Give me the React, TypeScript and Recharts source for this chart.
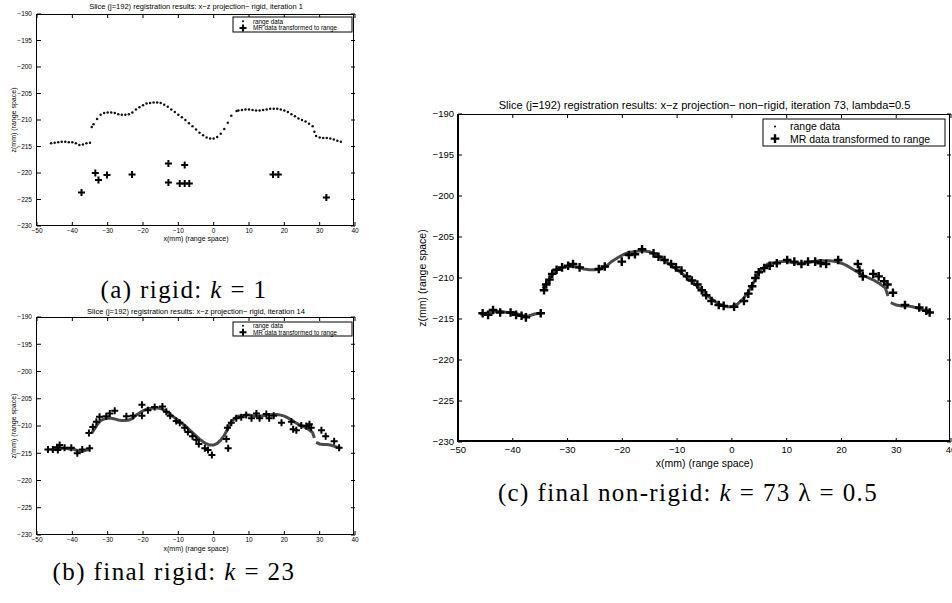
import { ScatterChart, Scatter, XAxis, YAxis } from "recharts";

type Pt = { x: number; z: number };

const xDomain: [number, number] = [-50, 40];
const zDomain: [number, number] = [-230, -190];
const xTicks = [-50, -40, -30, -20, -10, 0, 10, 20, 30, 40];
const zTicks = [-230, -225, -220, -215, -210, -205, -200, -195, -190];

// range data (same surface in every panel), split where the scan has gaps
const rangeLeft: Pt[] = [
  { x: -46, z: -214.4 }, { x: -45, z: -214.3 }, { x: -44, z: -214.2 }, { x: -43, z: -214.1 },
  { x: -42, z: -214.1 }, { x: -41, z: -214.2 }, { x: -40, z: -214.2 }, { x: -39, z: -214.4 },
  { x: -38, z: -214.7 }, { x: -37, z: -214.6 }, { x: -36, z: -214.4 }, { x: -35, z: -214.3 },
];
const rangeMid: Pt[] = [
  { x: -34.5, z: -211.3 }, { x: -34, z: -210.8 }, { x: -33, z: -209.8 }, { x: -32, z: -209.0 },
  { x: -31, z: -208.7 }, { x: -30, z: -208.6 }, { x: -29, z: -208.6 }, { x: -28, z: -208.7 },
  { x: -27, z: -208.9 }, { x: -26, z: -209.0 }, { x: -25, z: -209.0 }, { x: -24, z: -208.9 },
  { x: -23, z: -208.6 }, { x: -22, z: -208.0 }, { x: -21, z: -207.6 }, { x: -20, z: -207.2 },
  { x: -19, z: -206.9 }, { x: -18, z: -206.8 }, { x: -17, z: -206.7 }, { x: -16, z: -206.7 },
  { x: -15, z: -206.8 }, { x: -14, z: -207.1 }, { x: -13, z: -207.5 }, { x: -12, z: -208.0 },
  { x: -11, z: -208.5 }, { x: -10, z: -209.0 }, { x: -9, z: -209.5 }, { x: -8, z: -210.0 },
  { x: -7, z: -210.6 }, { x: -6, z: -211.2 }, { x: -5, z: -211.8 }, { x: -4, z: -212.4 },
  { x: -3, z: -212.9 }, { x: -2, z: -213.3 }, { x: -1, z: -213.5 }, { x: 0, z: -213.5 },
  { x: 1, z: -213.2 }, { x: 2, z: -212.6 }, { x: 3, z: -211.7 }, { x: 4, z: -210.5 },
  { x: 5, z: -209.2 }, { x: 6.5, z: -208.3 }, { x: 7, z: -208.2 }, { x: 8, z: -208.1 },
  { x: 9, z: -208.0 }, { x: 10, z: -208.0 }, { x: 11, z: -208.1 }, { x: 12, z: -208.2 },
  { x: 13, z: -208.2 }, { x: 14, z: -208.1 }, { x: 15, z: -208.0 }, { x: 16, z: -207.9 },
  { x: 17, z: -207.9 }, { x: 18, z: -207.9 }, { x: 19, z: -208.0 }, { x: 20, z: -208.2 },
  { x: 21, z: -208.5 }, { x: 22, z: -208.9 }, { x: 23, z: -209.3 }, { x: 24, z: -209.7 },
  { x: 25, z: -210.0 }, { x: 26, z: -210.3 }, { x: 27, z: -210.7 }, { x: 28, z: -211.2 },
  { x: 28.5, z: -212.2 },
];
const rangeRight: Pt[] = [
  { x: 29, z: -213.0 }, { x: 30, z: -213.3 }, { x: 31, z: -213.4 }, { x: 32, z: -213.4 },
  { x: 33, z: -213.5 }, { x: 34, z: -213.7 }, { x: 35, z: -213.9 }, { x: 36, z: -214.1 },
];
const rangeSegments = [rangeLeft, rangeMid, rangeRight];

// MR data transformed to range
const mrRigid1: Pt[] = [
  { x: -37.4, z: -223.7 }, { x: -33.5, z: -220.0 }, { x: -32.6, z: -221.3 }, { x: -30.2, z: -220.4 },
  { x: -23.1, z: -220.3 }, { x: -12.8, z: -218.2 }, { x: -12.8, z: -221.8 }, { x: -8.2, z: -218.5 },
  { x: -9.6, z: -222.0 }, { x: -8.2, z: -222.0 }, { x: -6.9, z: -222.0 }, { x: 16.8, z: -220.3 },
  { x: 18.3, z: -220.3 }, { x: 31.9, z: -224.6 },
];
const mrRigid14: Pt[] = [
  { x: -46.9, z: -214.3 }, { x: -45.5, z: -214.3 }, { x: -44.3, z: -213.9 }, { x: -43.6, z: -213.5 },
  { x: -44.1, z: -214.4 }, { x: -42.2, z: -214.0 }, { x: -40.3, z: -214.0 }, { x: -38.6, z: -215.0 },
  { x: -37.2, z: -214.3 }, { x: -35.1, z: -214.1 }, { x: -35.3, z: -211.3 }, { x: -34.2, z: -210.2 },
  { x: -33.2, z: -209.2 }, { x: -32.3, z: -208.3 }, { x: -30.4, z: -208.2 }, { x: -29.4, z: -207.7 },
  { x: -28.0, z: -207.2 }, { x: -24.7, z: -208.2 }, { x: -22.8, z: -208.1 }, { x: -20.3, z: -206.1 },
  { x: -20.3, z: -208.1 }, { x: -18.6, z: -207.1 }, { x: -16.7, z: -206.5 }, { x: -14.5, z: -206.4 },
  { x: -13.4, z: -207.4 }, { x: -12.3, z: -208.1 }, { x: -10.6, z: -209.1 }, { x: -9.6, z: -209.4 },
  { x: -8.2, z: -210.3 }, { x: -7.3, z: -211.1 }, { x: -6.0, z: -211.9 }, { x: -4.9, z: -212.5 },
  { x: -4.2, z: -213.3 }, { x: -2.5, z: -214.1 }, { x: -1.6, z: -214.4 }, { x: -0.5, z: -215.3 },
  { x: 3.6, z: -212.4 }, { x: 3.9, z: -210.3 }, { x: 4.1, z: -214.1 }, { x: 5.0, z: -209.4 },
  { x: 6.4, z: -208.6 }, { x: 7.8, z: -208.4 }, { x: 9.2, z: -208.0 }, { x: 10.7, z: -208.6 },
  { x: 12.1, z: -207.7 }, { x: 13.0, z: -208.6 }, { x: 14.9, z: -207.8 }, { x: 15.7, z: -208.6 },
  { x: 17.0, z: -208.1 }, { x: 19.2, z: -209.4 }, { x: 22.0, z: -209.2 }, { x: 22.5, z: -210.6 },
  { x: 23.4, z: -210.8 }, { x: 24.8, z: -209.9 }, { x: 26.2, z: -210.0 }, { x: 27.6, z: -210.3 },
  { x: 27.1, z: -209.7 }, { x: 30.5, z: -210.8 }, { x: 31.7, z: -211.9 }, { x: 34.1, z: -212.8 },
  { x: 35.5, z: -214.0 },
];
const mrNonRigid73: Pt[] = [
  { x: -45.5, z: -214.3 }, { x: -44.5, z: -214.5 }, { x: -43.6, z: -213.9 }, { x: -42.3, z: -214.2 },
  { x: -40.4, z: -214.2 }, { x: -39.4, z: -214.5 }, { x: -38.4, z: -214.6 }, { x: -37.6, z: -214.8 },
  { x: -34.9, z: -214.3 }, { x: -34.3, z: -211.5 }, { x: -33.9, z: -210.8 }, { x: -33.3, z: -210.2 },
  { x: -32.8, z: -209.5 }, { x: -32.0, z: -209.0 }, { x: -31.0, z: -208.7 }, { x: -29.9, z: -208.5 },
  { x: -29.0, z: -208.3 }, { x: -27.8, z: -208.7 }, { x: -24.3, z: -208.9 }, { x: -23.2, z: -208.6 },
  { x: -20.1, z: -208.0 }, { x: -18.8, z: -207.2 }, { x: -17.7, z: -207.1 }, { x: -16.4, z: -206.5 },
  { x: -14.3, z: -207.0 }, { x: -13.4, z: -207.4 }, { x: -12.3, z: -207.8 }, { x: -11.1, z: -208.3 },
  { x: -10.2, z: -208.7 }, { x: -9.2, z: -209.1 }, { x: -8.2, z: -209.8 }, { x: -7.3, z: -210.3 },
  { x: -6.3, z: -210.8 }, { x: -5.5, z: -211.5 }, { x: -4.7, z: -212.1 }, { x: -3.7, z: -212.8 },
  { x: -2.4, z: -213.3 }, { x: -1.5, z: -213.4 }, { x: 0.4, z: -213.5 }, { x: 2.2, z: -212.8 },
  { x: 3.0, z: -211.9 }, { x: 3.7, z: -211.0 }, { x: 4.3, z: -210.0 }, { x: 4.9, z: -209.3 },
  { x: 5.9, z: -208.8 }, { x: 6.9, z: -208.5 }, { x: 8.2, z: -208.2 }, { x: 10.1, z: -207.8 },
  { x: 11.4, z: -208.0 }, { x: 12.7, z: -208.3 }, { x: 13.9, z: -208.0 }, { x: 15.2, z: -208.0 },
  { x: 16.2, z: -208.2 }, { x: 17.2, z: -208.3 }, { x: 19.4, z: -207.8 }, { x: 23.0, z: -208.3 },
  { x: 23.3, z: -209.1 }, { x: 23.9, z: -209.8 }, { x: 25.8, z: -209.5 }, { x: 26.8, z: -209.8 },
  { x: 27.8, z: -210.4 }, { x: 28.4, z: -210.8 }, { x: 29.4, z: -211.8 }, { x: 31.6, z: -213.3 },
  { x: 34.2, z: -213.6 }, { x: 35.5, z: -214.0 }, { x: 36.1, z: -214.2 },
];

const SANS = '"Liberation Sans", Arial, Helvetica, sans-serif';
const SERIF = '"Liberation Serif", "Times New Roman", serif';
const fmt = (v: number) => (v < 0 ? `\u2212${Math.abs(v)}` : `${v}`);

const makePlus = (half: number, sw: number) => (props: any) => {
  const { cx, cy } = props;
  if (cx == null || cy == null) return <g />;
  return (
    <path
      d={`M${cx - half},${cy}H${cx + half}M${cx},${cy - half}V${cy + half}`}
      stroke="#000"
      strokeWidth={sw}
      fill="none"
    />
  );
};
const plusSmall = makePlus(3.5, 2);
const plusLarge = makePlus(4.3, 2.4);
const rangeDot = (props: any) => {
  const { cx, cy } = props;
  if (cx == null || cy == null) return <g />;
  return <circle cx={cx} cy={cy} r={1.25} fill="#111" />;
};
const noShape = () => <g />;
const rangeLine = { stroke: "#4a4a4a", strokeWidth: 3 };

interface PanelProps {
  l: number;
  t: number;
  r: number;
  b: number;
  title: string;
  titleY: number;
  titleFont: number;
  mr: Pt[];
  plus: (props: any) => any;
  rangeAsLine: boolean;
  tickFont: number;
  yTickGap: number;
  xTickGap: number;
  xLabelY: number;
  yLabelX: number;
  labelFont: number;
  axisWidth: number;
  legend: { x: number; y: number; w: number; h: number; font: number; mark: number; text: number };
}

function Panel(p: PanelProps) {
  const padL = 40;
  const padT = 10;
  const padR = 10;
  const padB = 30;
  const w = p.r - p.l + padL + padR;
  const h = p.b - p.t + padT + padB;
  const plotTop = padT;
  const plotRight = w - padR;
  const midX = (p.l + p.r) / 2;
  const midY = (p.t + p.b) / 2;
  const lg = p.legend;
  const rowH = lg.h / 2;
  const tl = 4;

  // tick renderers: label plus short inward marks on the opposite sides too
  const xTick = (props: any) => {
    const { x, y, payload } = props;
    const axisY = y - p.xTickGap;
    return (
      <g>
        <rect x={x - 0.5} y={axisY - tl} width={1} height={tl} fill="#000" />
        <rect x={x - 0.5} y={plotTop} width={1} height={tl} fill="#000" />
        <text x={x} y={y} dy="0.75em" textAnchor="middle" fontFamily={SANS} fontSize={p.tickFont} fill="#000">
          {fmt(payload.value)}
        </text>
      </g>
    );
  };
  const zTick = (props: any) => {
    const { x, y, payload } = props;
    const axisX = x + p.yTickGap;
    return (
      <g>
        <rect x={axisX} y={y - 0.5} width={tl} height={1} fill="#000" />
        <rect x={plotRight - tl} y={y - 0.5} width={tl} height={1} fill="#000" />
        <text x={x} y={y} dy="0.35em" textAnchor="end" fontFamily={SANS} fontSize={p.tickFont} fill="#000">
          {fmt(payload.value)}
        </text>
      </g>
    );
  };

  return (
    <>
      <div style={{ position: "absolute", left: p.l - padL, top: p.t - padT }}>
        <ScatterChart width={w} height={h} margin={{ top: padT, right: padR, bottom: 0, left: 0 }}>
          <XAxis
            type="number"
            dataKey="x"
            domain={xDomain}
            ticks={xTicks}
            height={padB}
            tickSize={0}
            tickLine={false}
            tickMargin={p.xTickGap}
            tick={xTick}
            axisLine={false}
          />
          <YAxis
            type="number"
            dataKey="z"
            domain={zDomain}
            ticks={zTicks}
            width={padL}
            tickSize={0}
            tickLine={false}
            tickMargin={p.yTickGap}
            tick={zTick}
            axisLine={false}
          />
          {rangeSegments.map((seg, i) =>
            p.rangeAsLine ? (
              <Scatter key={`r${i}`} data={seg} line={rangeLine} shape={noShape} isAnimationActive={false} />
            ) : (
              <Scatter key={`r${i}`} data={seg} shape={rangeDot} isAnimationActive={false} />
            )
          )}
          <Scatter data={p.mr} shape={p.plus} isAnimationActive={false} />
        </ScatterChart>
      </div>
      {/* axes box as plain boxes: thin top/right, heavier left/bottom */}
      <div
        style={{
          position: "absolute",
          left: p.l - p.axisWidth / 2,
          top: p.t - 0.5,
          width: p.r - p.l,
          height: p.b - p.t,
          borderTop: "1px solid #000",
          borderRight: "1px solid #000",
          borderLeft: `${p.axisWidth}px solid #000`,
          borderBottom: `${p.axisWidth}px solid #000`,
          boxSizing: "border-box",
          pointerEvents: "none",
        }}
      />
      <svg
        width={952}
        height={603}
        style={{ position: "absolute", left: 0, top: 0, pointerEvents: "none", overflow: "visible" }}
      >
        <text x={midX} y={p.titleY} textAnchor="middle" dominantBaseline="central" fontFamily={SANS} fontSize={p.titleFont}>
          {p.title}
        </text>
        <text x={midX} y={p.xLabelY} textAnchor="middle" dominantBaseline="central" fontFamily={SANS} fontSize={p.labelFont}>
          x(mm) (range space)
        </text>
        <text
          x={p.yLabelX}
          y={midY}
          textAnchor="middle"
          dominantBaseline="central"
          fontFamily={SANS}
          fontSize={p.labelFont}
          transform={`rotate(-90 ${p.yLabelX} ${midY})`}
        >
          z(mm) (range space)
        </text>
        <rect x={lg.x} y={lg.y} width={lg.w} height={lg.h} fill="#fff" stroke="#000" strokeWidth={1} />
        <circle cx={lg.x + lg.mark} cy={lg.y + rowH * 0.55} r={1} fill="#000" />
        <text x={lg.x + lg.text} y={lg.y + rowH * 0.55} dominantBaseline="central" fontFamily={SANS} fontSize={lg.font}>
          range data
        </text>
        {p.plus({ cx: lg.x + lg.mark, cy: lg.y + rowH * 1.45 })}
        <text x={lg.x + lg.text} y={lg.y + rowH * 1.45} dominantBaseline="central" fontFamily={SANS} fontSize={lg.font}>
          MR data transformed to range
        </text>
      </svg>
    </>
  );
}

function Caption({ x, y, pre, post }: { x: number; y: number; pre: string; post: string }) {
  return (
    <svg width={952} height={603} style={{ position: "absolute", left: 0, top: 0, pointerEvents: "none" }}>
      <text x={x} y={y} textAnchor="middle" fontFamily={SERIF} fontSize={25} letterSpacing={1.4} fill="#000">
        {pre}
        <tspan fontStyle="italic">k</tspan>
        {post}
      </text>
    </svg>
  );
}

export default function App() {
  return (
    <div
      style={{
        position: "absolute",
        left: 0,
        top: 0,
        width: 952,
        height: 603,
        overflow: "hidden",
        background: "#fff",
      }}
    >
      <Panel
        l={37}
        t={14}
        r={355}
        b={226}
        title="Slice (j=192) registration results: x−z projection− rigid, iteration 1"
        titleY={6}
        titleFont={7.5}
        mr={mrRigid1}
        plus={plusSmall}
        rangeAsLine={false}
        tickFont={6.5}
        yTickGap={5}
        xTickGap={2}
        xLabelY={238}
        yLabelX={13}
        labelFont={7}
        axisWidth={1.5}
        legend={{ x: 233, y: 17, w: 119, h: 15, font: 6.3, mark: 10, text: 20 }}
      />
      <Panel
        l={37}
        t={317}
        r={355}
        b={535}
        title="Slice (j=192) registration results: x−z projection− rigid, iteration 14"
        titleY={311}
        titleFont={7.5}
        mr={mrRigid14}
        plus={plusSmall}
        rangeAsLine={true}
        tickFont={6.5}
        yTickGap={5}
        xTickGap={2}
        xLabelY={548}
        yLabelX={13}
        labelFont={7}
        axisWidth={1.5}
        legend={{ x: 233, y: 322, w: 119, h: 14, font: 6.3, mark: 10, text: 20 }}
      />
      <Panel
        l={458}
        t={114}
        r={951}
        b={442}
        title="Slice (j=192) registration results: x−z projection− non−rigid, iteration 73, lambda=0.5"
        titleY={105}
        titleFont={11.1}
        mr={mrNonRigid73}
        plus={plusLarge}
        rangeAsLine={true}
        tickFont={9.5}
        yTickGap={4}
        xTickGap={4}
        xLabelY={463}
        yLabelX={422}
        labelFont={10.5}
        axisWidth={2}
        legend={{ x: 763, y: 119, w: 182, h: 27, font: 10.5, mark: 12, text: 27 }}
      />
      <Caption x={184} y={298} pre="(a) rigid: " post=" = 1" />
      <Caption x={174} y={580} pre="(b) final rigid: " post=" = 23" />
      <Caption x={688} y={501} pre="(c) final non-rigid: " post=" = 73 λ = 0.5" />
    </div>
  );
}
